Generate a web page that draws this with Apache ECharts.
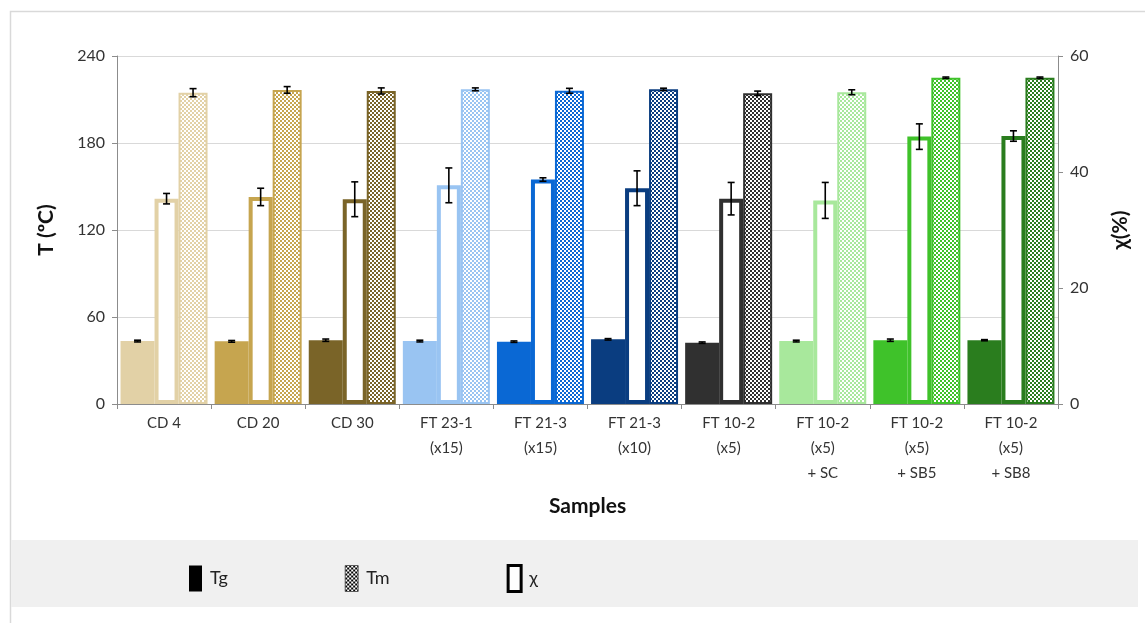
<!DOCTYPE html>
<html>
<head>
<meta charset="utf-8">
<script src="https://cdn.jsdelivr.net/npm/echarts@6/dist/echarts.min.js"></script>
<style>
html,body{margin:0;padding:0;background:#fff;}
#chart{width:1145px;height:623px;}
</style>
</head>
<body>
<div id="chart"></div>
<script>
const categories = ['CD 4','CD 20','CD 30','FT 23-1\n(x15)','FT 21-3\n(x15)','FT 21-3\n(x10)','FT 10-2\n(x5)','FT 10-2\n(x5)\n+ SC','FT 10-2\n(x5)\n+ SB5','FT 10-2\n(x5)\n+ SB8'];
const tgValues  = [43.4, 43.2, 44.0, 43.4, 43.0, 44.6, 42.3, 43.4, 44.0, 44.0];
const tgErrors  = [0.6, 0.6, 0.8, 0.6, 0.5, 0.5, 0.5, 0.6, 0.8, 0.4];
const tmValues  = [214.7, 216.6, 215.9, 217.0, 216.0, 217.0, 214.3, 215.0, 225.0, 225.0];
const tmErrors  = [2.8, 2.3, 2.1, 1.0, 1.7, 0.8, 1.5, 1.7, 0.5, 0.5];
const chiValues = [35.4, 35.7, 35.3, 37.7, 38.7, 37.2, 35.4, 35.1, 46.1, 46.2];
const chiErrors = [0.9, 1.5, 3.0, 3.0, 0.3, 3.0, 2.8, 3.1, 2.2, 0.9];
const leftTicks = [0, 60, 120, 180, 240];
const rightTicks = [0, 20, 40, 60];
const sampleColors = ['#E2D1A6','#C6A54F','#7A6428','#99C4F2','#0A68D4','#0A3D80','#303030','#A8E89C','#3FC22A','#2A7D1E'];

const FONT = 'Lato, "Open Sans", sans-serif';
const BAR_W = {tg: 34, chi: 24, tm: 29};
const TOTAL = BAR_W.tg + BAR_W.chi + BAR_W.tm;
const OFF = {
  tg: -TOTAL / 2 + BAR_W.tg / 2,
  chi: -TOTAL / 2 + BAR_W.tg + BAR_W.chi / 2,
  tm: -TOTAL / 2 + BAR_W.tg + BAR_W.chi + BAR_W.tm / 2
};

function checker(color, size) {
  size = size || 2;
  const c = document.createElement('canvas');
  c.width = c.height = size * 2;
  const ctx = c.getContext('2d');
  ctx.fillStyle = '#ffffff';
  ctx.fillRect(0, 0, size * 2, size * 2);
  ctx.fillStyle = color;
  ctx.fillRect(0, 0, size, size);
  ctx.fillRect(size, size, size, size);
  return {image: c, repeat: 'repeat'};
}

function errRender(offset) {
  return function (params, api) {
    const i = api.value(0), v = api.value(1), e = api.value(2);
    const c = api.coord([i, v]);
    const hi = api.coord([i, v + e]);
    const lo = api.coord([i, v - e]);
    const x = c[0] + offset;
    const st = {stroke: '#000', lineWidth: 1.6};
    return {
      type: 'group',
      children: [
        {type: 'line', shape: {x1: x, y1: hi[1], x2: x, y2: lo[1]}, style: st},
        {type: 'line', shape: {x1: x - 3.5, y1: hi[1], x2: x + 3.5, y2: hi[1]}, style: st},
        {type: 'line', shape: {x1: x - 3.5, y1: lo[1], x2: x + 3.5, y2: lo[1]}, style: st}
      ]
    };
  };
}

const chart = echarts.init(document.getElementById('chart'), null, {renderer: 'canvas'});

const option = {
  animation: false,
  backgroundColor: '#ffffff',
  textStyle: {fontFamily: FONT},
  graphic: [
    {type: 'rect', z: -10, shape: {x: 10.5, y: 11.5, width: 1200, height: 700},
      style: {fill: '#ffffff', stroke: '#D9D9D9', lineWidth: 1.5}},
    {type: 'rect', z: -9, shape: {x: 11, y: 540, width: 1127, height: 67},
      style: {fill: '#F0F0F0'}}
  ],
  grid: {left: 117, right: 87, top: 56, bottom: 219, containLabel: false},
  legend: {
    left: 184, top: 559,
    icon: 'rect',
    itemWidth: 13, itemHeight: 26, itemGap: 117,
    textStyle: {fontSize: 18, color: '#222', fontFamily: FONT, padding: [0, 0, 0, 3]},
    data: [
      {name: 'Tg', icon: 'rect', itemStyle: {color: '#000'}},
      {name: 'Tm', icon: 'rect', itemStyle: {color: checker('#000', 2), borderColor: '#444', borderWidth: 0.8}},
      {name: 'χ', icon: 'rect', itemStyle: {color: '#fff', borderColor: '#000', borderWidth: 3}}
    ],
    selectedMode: false
  },
  xAxis: {
    type: 'category',
    data: categories,
    boundaryGap: true,
    name: 'Samples',
    nameLocation: 'middle',
    nameGap: 92,
    nameTextStyle: {fontSize: 21, fontWeight: 'bold', color: '#111', fontFamily: FONT},
    axisLine: {lineStyle: {color: '#8C8C8C', width: 1}},
    axisTick: {show: true, length: 5, alignWithLabel: false, lineStyle: {color: '#8C8C8C'}},
    axisLabel: {fontSize: 15, lineHeight: 25, margin: 7, color: '#333', interval: 0, fontFamily: FONT}
  },
  yAxis: [
    {
      type: 'value', min: leftTicks[0], max: leftTicks[leftTicks.length - 1], interval: 60,
      name: 'T (ºC)', nameLocation: 'middle', nameGap: 60, nameRotate: 90,
      nameTextStyle: {fontSize: 21, fontWeight: 'bold', color: '#111', fontFamily: FONT},
      axisLine: {show: true, lineStyle: {color: '#8C8C8C'}},
      axisTick: {show: true, length: 5, lineStyle: {color: '#8C8C8C'}},
      axisLabel: {fontSize: 16, margin: 12, color: '#333', fontFamily: FONT},
      splitLine: {show: true, lineStyle: {color: '#D9D9D9', width: 1.2}}
    },
    {
      type: 'value', min: rightTicks[0], max: rightTicks[rightTicks.length - 1], interval: 20,
      position: 'right',
      name: 'χ(%)', nameLocation: 'middle', nameGap: 52, nameRotate: 90,
      nameTextStyle: {fontSize: 21, fontWeight: 'bold', color: '#111', fontFamily: FONT},
      axisLine: {show: true, lineStyle: {color: '#8C8C8C'}},
      axisTick: {show: true, length: 5, lineStyle: {color: '#8C8C8C'}},
      axisLabel: {fontSize: 16, margin: 12, color: '#333', fontFamily: FONT},
      splitLine: {show: false}
    }
  ],
  series: [
    {
      name: 'Tg', type: 'bar', yAxisIndex: 0, barWidth: BAR_W.tg, barGap: '0%',
      itemStyle: {color: '#000'},
      data: tgValues.map((v, i) => ({value: v, itemStyle: {color: sampleColors[i]}}))
    },
    {
      name: 'χ', type: 'bar', yAxisIndex: 1, barWidth: BAR_W.chi, barGap: '0%',
      itemStyle: {color: '#fff', borderColor: '#000', borderWidth: 4},
      data: chiValues.map((v, i) => ({value: v, itemStyle: {color: '#fff', borderColor: sampleColors[i], borderWidth: 4}}))
    },
    {
      name: 'Tm', type: 'bar', yAxisIndex: 0, barWidth: BAR_W.tm, barGap: '0%',
      itemStyle: {color: checker('#000', 2)},
      data: tmValues.map((v, i) => ({value: v, itemStyle: {color: checker(sampleColors[i], 2), borderColor: sampleColors[i], borderWidth: 2}}))
    },
    {
      name: 'errTg', type: 'custom', yAxisIndex: 0, z: 10, renderItem: errRender(OFF.tg),
      data: tgValues.map((v, i) => [i, v, tgErrors[i]])
    },
    {
      name: 'errChi', type: 'custom', yAxisIndex: 1, z: 10, renderItem: errRender(OFF.chi),
      data: chiValues.map((v, i) => [i, v, chiErrors[i]])
    },
    {
      name: 'errTm', type: 'custom', yAxisIndex: 0, z: 10, renderItem: errRender(OFF.tm),
      data: tmValues.map((v, i) => [i, v, tmErrors[i]])
    }
  ]
};

chart.setOption(option);
</script>
</body>
</html>
